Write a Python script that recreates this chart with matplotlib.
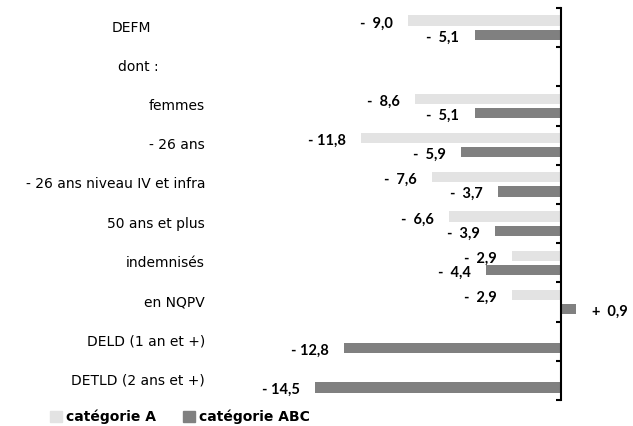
import numpy as np
import matplotlib.pyplot as plt
from matplotlib.patches import Patch
from matplotlib.transforms import blended_transform_factory

plt.rcParams['font.family'] = ['DejaVu Sans']

# Data
categories = ['DEFM', 'dont :', 'femmes', '- 26 ans', '- 26 ans niveau IV et infra',
              '50 ans et plus', 'indemnisés', 'en NQPV', 'DELD (1 an et +)',
              'DETLD (2 ans et +)']
cat_a = [-9.0, np.nan, -8.6, -11.8, -7.6, -6.6, -2.9, -2.9, np.nan, np.nan]
cat_abc = [-5.1, np.nan, -5.1, -5.9, -3.7, -3.9, -4.4, 0.9, -12.8, -14.5]
series_names = ['catégorie A', 'catégorie ABC']

light = '#e3e3e3'
dark = '#808080'

W, H = 633, 426
fig = plt.figure(figsize=(W / 100, H / 100), dpi=100)

# axes placed in pixel terms: axis line at x=561, categories from y=8 to y=400
px_per_unit = 16.95
xmin, xmax = -16, 4
left = (561 + xmin * px_per_unit) / W
width = (xmax - xmin) * px_per_unit / W
bottom = 1 - 400 / H
top = 1 - 8 / H
ax = fig.add_axes([left, bottom, width, top - bottom])

y = np.arange(len(categories))
h = 0.26
off = 0.18
ax.barh(y - off, cat_a, height=h, color=light)
ax.barh(y + off, cat_abc, height=h, color=dark)

ax.set_xlim(xmin, xmax)
ax.set_ylim(len(categories) - 0.5, -0.5)


def fmt(v):
    sign = '-' if v < 0 else '+'
    num = f'{abs(v):.1f}'.replace('.', ',')
    pad = '  ' if abs(v) < 10 else ' '
    return sign + pad + num


val_font = dict(fontsize=10.5, fontweight='bold', family=['Lato', 'DejaVu Sans'])
for vals, dy in ((cat_a, -off), (cat_abc, off)):
    for i, v in enumerate(vals):
        if np.isnan(v):
            continue
        if v < 0:
            ax.annotate(fmt(v), (v, i + dy), xytext=(-11, -2), textcoords='offset points',
                        ha='right', va='center', annotation_clip=False, **val_font)
        else:
            ax.annotate(fmt(v), (v, i + dy), xytext=(11.5, -2), textcoords='offset points',
                        ha='left', va='center', annotation_clip=False, **val_font)

# axis line at zero with ticks between categories
for s in ['top', 'right', 'bottom']:
    ax.spines[s].set_visible(False)
ax.spines['left'].set_position(('data', 0))
ax.spines['left'].set_linewidth(1.5)
ax.set_xticks([])
ax.set_yticks(np.arange(-0.5, len(categories), 1.0))
ax.set_yticklabels([])
ax.tick_params(axis='y', direction='out', length=3.5, width=1.5)

# category labels
tr = blended_transform_factory(fig.transFigure, ax.transData)
for i, c in enumerate(categories):
    if i == 0:
        ax.text(131 / W, i, c, transform=tr, ha='center', va='center', fontsize=10)
    elif i == 1:
        ax.text(138 / W, i, c, transform=tr, ha='center', va='center', fontsize=10)
    else:
        ax.text(205 / W, i, c, transform=tr, ha='right', va='center', fontsize=10)

handles = [Patch(color=light), Patch(color=dark)]
leg = fig.legend(handles, series_names, loc='center', bbox_to_anchor=(180 / W, 1 - 417 / H),
                 ncol=2, frameon=False, handlelength=0.85, handleheight=0.85,
                 handletextpad=0.25, columnspacing=2.0,
                 prop={'size': 10, 'weight': 'bold'})

fig.savefig('out.png', dpi=100)
